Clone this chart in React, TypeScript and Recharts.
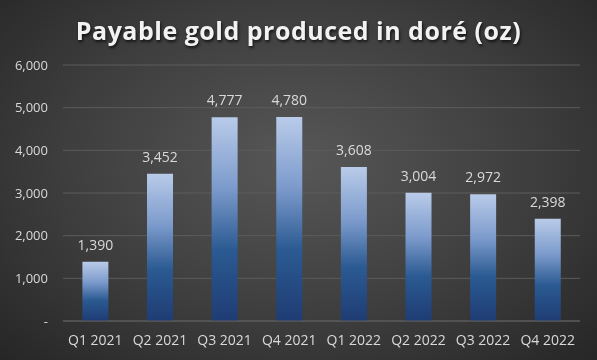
import { Bar, BarChart, CartesianGrid, LabelList, XAxis, YAxis } from "recharts";

const quarters = ["Q1 2021", "Q2 2021", "Q3 2021", "Q4 2021", "Q1 2022", "Q2 2022", "Q3 2022", "Q4 2022"];
const ounces = [1390, 3452, 4777, 4780, 3608, 3004, 2972, 2398];
const yTicks = [0, 1000, 2000, 3000, 4000, 5000, 6000];

const data = quarters.map((q, i) => ({ q, oz: ounces[i] }));

const fmt = (v: number) => (v === 0 ? "-" : v.toLocaleString("en-US"));

export default function App() {
  return (
    <div
      style={{
        position: "fixed",
        top: 0,
        left: 0,
        width: 597,
        height: 360,
        background: "radial-gradient(ellipse at 50% 45%, #575757 0%, #3e3e3e 55%, #262626 100%)",
        fontFamily: "'Open Sans', sans-serif",
      }}
    >
      <div
        style={{
          position: "absolute",
          top: 13,
          left: 0,
          width: 597,
          textAlign: "center",
          color: "#f2f2f2",
          fontSize: 25,
          fontWeight: 700,
          letterSpacing: 0.5,
          textShadow: "1px 2px 3px rgba(0,0,0,0.7)",
        }}
      >
        Payable gold produced in doré (oz)
      </div>
      <BarChart
        width={597}
        height={360}
        data={data}
        margin={{ top: 65, right: 17, bottom: 0, left: 0 }}
        barCategoryGap="30%"
      >
        <defs>
          <linearGradient id="barFill" x1="0" y1="0" x2="0" y2="1">
            <stop offset="0%" stopColor="#b9cbe9" />
            <stop offset="35%" stopColor="#7b9acb" />
            <stop offset="65%" stopColor="#2b5a92" />
            <stop offset="100%" stopColor="#1f3c74" />
          </linearGradient>
        </defs>
        <CartesianGrid vertical={false} stroke="#5c5c5c" />
        <XAxis
          dataKey="q"
          height={39}
          axisLine={{ stroke: "#5c5c5c" }}
          tickLine={false}
          tickSize={0}
          tickMargin={14}
          tick={{ fill: "#d9d9d9", fontSize: 14 }}
        />
        <YAxis
          domain={[0, 6000]}
          ticks={yTicks}
          width={63}
          axisLine={false}
          tickLine={false}
          tickSize={0}
          tickMargin={15}
          tickFormatter={fmt}
          tick={{ fill: "#d9d9d9", fontSize: 13 }}
        />
        <Bar dataKey="oz" fill="url(#barFill)" isAnimationActive={false}>
          <LabelList
            dataKey="oz"
            position="top"
            offset={12}
            formatter={(v: any) => fmt(Number(v))}
            style={{ fill: "#d9d9d9", fontSize: 14 }}
          />
        </Bar>
      </BarChart>
    </div>
  );
}
